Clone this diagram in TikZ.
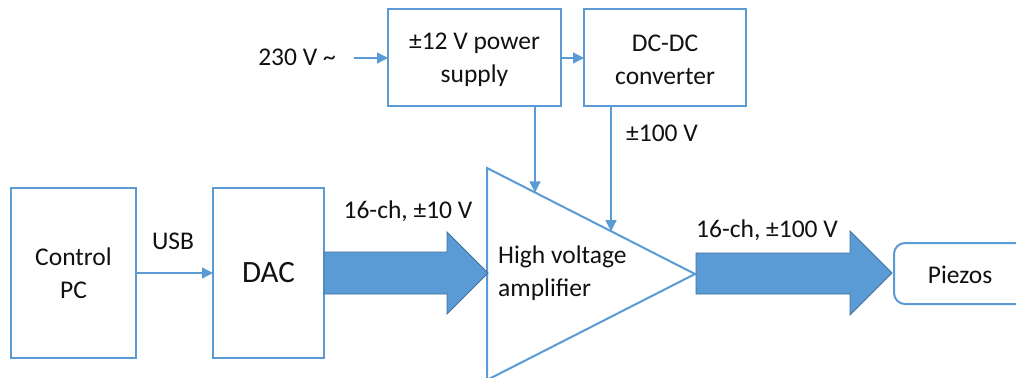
\documentclass[tikz,border=0pt]{standalone}
\usepackage{fontspec}
\setmainfont{Carlito}
\usetikzlibrary{arrows.meta,calc}
\definecolor{oblue}{HTML}{5B9BD5}
\definecolor{oborder}{HTML}{41719C}
\definecolor{otext}{HTML}{111111}
\begin{document}
\begin{tikzpicture}[x=1pt,y=-1pt,
  txt/.style={text=otext,font=\fontsize{25.5}{33}\selectfont,inner sep=0pt},
  blockbox/.style={draw=oblue,line width=2pt,fill=white},
  thin/.style={draw=oblue,line width=1.3pt,-{Triangle[length=11pt,width=11pt]}},
  fatarrow/.style={fill=oblue,draw=oborder,line width=0.8pt,line join=miter}]
\useasboundingbox (0,0) rectangle (1016,377);
\fill[white] (0,0) rectangle (1016,377);
\clip (0,0) rectangle (1016,377);
% boxes
\draw[blockbox] (11,188) rectangle (136,358);
\node[txt,align=center] (pc) at (73.5,273) {Control\\PC};
\draw[blockbox] (213,188) rectangle (324,358);
\node[txt,font=\fontsize{31}{36}\selectfont] (dac) at (268.5,273) {DAC};
\draw[blockbox] (388,9) rectangle (561,106);
\node[txt,align=center] (ps) at (474.5,60) {±12 V power\\supply};
\draw[blockbox] (584,9) rectangle (746,106);
\node[txt,align=center] (dcdc) at (665,60) {DC-DC\\converter};
\draw[blockbox,rounded corners=11pt] (894,243) rectangle (1040,304);
\node[txt] (piezo) at (960,275) {Piezos};
% amplifier triangle
\coordinate (tl) at (487,168);
\coordinate (bl) at (487,380);
\coordinate (apex) at (695,274);
\draw[blockbox,line join=miter] (tl) -- (apex) -- (bl) -- cycle;
\node[txt,align=left,anchor=west] (amp) at (498,273) {High voltage\\amplifier};
% fat arrows
\draw[fatarrow] (324,252) -- (447,252) -- (447,232) -- (488,273) -- (447,314) -- (447,294) -- (324,294) -- cycle;
\draw[fatarrow] (696,253) -- (850,253) -- (850,231) -- (892,273) -- (850,315) -- (850,294) -- (696,294) -- cycle;
% thin connectors
\coordinate (acin) at (354,58);
\node[txt] (ac) at (297,57) {230 V \textasciitilde};
\draw[thin] (acin) -- (388,58);
\draw[thin] (561,58) -- (584,58);
\draw[thin] (136,273) -- (213,273);
\coordinate (psin) at ($(tl)!0.2308!(apex)$);
\coordinate (dcin) at ($(tl)!0.5962!(apex)$);
\draw[thin] (psin |- 0,106) -- (psin);
\draw[thin] (dcin |- 0,106) -- (dcin);
% labels
\node[txt] (usb) at (173,241) {USB};
\node[txt] (hv) at (662,133) {±100 V};
\node[txt] (l1) at (408,211) {16-ch, ±10 V};
\node[txt] (l2) at (767,230) {16-ch, ±100 V};
\end{tikzpicture}
\end{document}
